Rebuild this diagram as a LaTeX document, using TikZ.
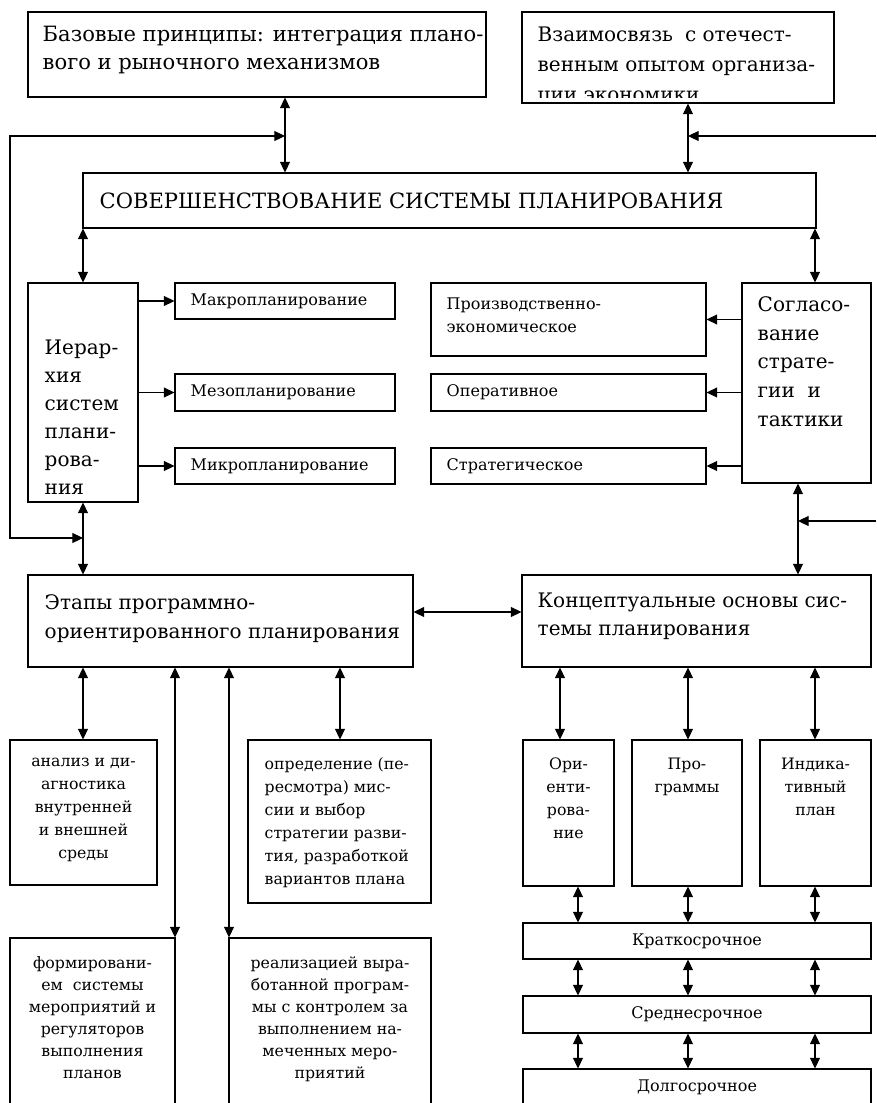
\documentclass[tikz,border=0pt]{standalone}
\usepackage{fontspec}
\setmainfont{DejaVu Serif}
\usetikzlibrary{arrows.meta, positioning, fit}
\tikzset{box/.style={draw, line width=.8pt, inner sep=0pt}}
\tikzset{big/.style={inner sep=0pt, align=left, font=\fontsize{15}{21.5}\selectfont}}
\tikzset{mid/.style={inner sep=0pt, align=left, font=\fontsize{12}{17.5}\selectfont}}
\tikzset{small/.style={inner sep=0pt, align=center, font=\fontsize{11.8}{17.25}\selectfont}}
\tikzset{dbl/.style={line width=.8pt, {Triangle[length=8pt,width=7.5pt]}-{Triangle[length=8pt,width=7.5pt]}}}
\tikzset{sgl/.style={line width=.8pt, -{Triangle[length=8pt,width=7.5pt]}}}

\begin{document}
\begin{tikzpicture}[x=.75pt, y=.75pt]
  \useasboundingbox (0,0) rectangle (876,-1103);
  \clip (0,0) rectangle (876,-1103);

  % Columns and rows of the connectors
  \coordinate (cA) at (285,0);
  \coordinate (cB) at (688,0);
  \coordinate (cC) at (83,0);
  \coordinate (cD) at (815,0);
  \coordinate (cE) at (798,0);
  \coordinate (cF) at (175,0);
  \coordinate (cG) at (229,0);
  \coordinate (cH) at (340,0);
  \coordinate (cI) at (560,0);
  \coordinate (cJ) at (688,0);
  \coordinate (cK) at (578,0);
  \coordinate (cL) at (10,0);
  \coordinate (cR) at (876,0);
  \coordinate (rA) at (0,-136);
  \coordinate (rB) at (0,-538);
  \coordinate (rC) at (0,-521);
  \coordinate (rD) at (0,-612);

  % Top
  \node[box, fit={(28,-12) (486,-97)}] (base) {};
  \node[big, font=\fontsize{15.8}{21}\selectfont, below right=14 and 15 of base.north west] (base-t)
    {Базовые принципы: интеграция плано-\\вого и рыночного механизмов};
  \node[box, fit={(522,-12) (834,-103)}] (link) {};
  \begin{scope}
    \clip (link.north west) rectangle ([yshift=4.5pt]link.south east);
    \node[big, font=\fontsize{15}{22.5}\selectfont, below right=15 and 16 of link.north west] (link-t)
      {Взаимосвязь\hspace{.6em}с отечест-\\венным опытом организа-\\ции экономики};
  \end{scope}
  \node[box, fit={(83,-173) (816,-228)}] (sov) {};
  \node[big, font=\fontsize{15.8}{21}\selectfont, right=17 of sov.west] (sov-t)
    {СОВЕРШЕНСТВОВАНИЕ СИСТЕМЫ ПЛАНИРОВАНИЯ};

  % Hierarchy
  \node[box, fit={(28,-283) (138,-502)}] (hier) {};
  \node[big, font=\fontsize{15}{21}\selectfont, below right=57 and 17 of hier.north west] (hier-t)
    {Иерар-\\хия\\систем\\плани-\\рова-\\ния};
  \node[box, fit={(175,-283) (395,-319)}] (macro) {};
  \node[mid, right=16 of macro.west] (macro-t) {Макропланирование};
  \node[box, fit={(175,-374) (395,-411)}] (meso) {};
  \node[mid, right=16 of meso.west] (meso-t) {Мезопланирование};
  \node[box, fit={(175,-448) (395,-484)}] (micro) {};
  \node[mid, right=16 of micro.west] (micro-t) {Микропланирование};

  % Strategy and tactics
  \node[box, fit={(742,-283) (871,-483)}] (agree) {};
  \node[big, below right=14 and 16 of agree.north west] (agree-t)
    {Согласо-\\вание\\страте-\\гии\ \ и\\тактики};
  \node[box, fit={(431,-283) (706,-356)}] (prod) {};
  \node[mid, below right=15 and 16 of prod.north west] (prod-t)
    {Производственно-\\экономическое};
  \node[box, fit={(431,-374) (706,-411)}] (oper) {};
  \node[mid, right=16 of oper.west] (oper-t) {Оперативное};
  \node[box, fit={(431,-448) (706,-484)}] (strat) {};
  \node[mid, right=16 of strat.west] (strat-t) {Стратегическое};

  % Middle row
  \node[box, fit={(28,-575) (413,-667)}] (stages) {};
  \node[big, below right=20 and 17 of stages.north west] (stages-t)
    {Этапы программно-\\ориентированного планирования};
  \node[box, fit={(522,-575) (871,-667)}] (concept) {};
  \node[big, below right=18 and 16 of concept.north west] (concept-t)
    {Концептуальные основы сис-\\темы планирования};

  % Stages
  \node[box, fit={(10,-740) (157,-885)}] (anal) {};
  \node[small, below=18 of anal.north] (anal-t)
    {анализ и ди-\\агностика\\внутренней\\и внешней\\среды};
  \node[box, fit={(248,-740) (431,-903)}] (defin) {};
  \node[small, align=left, below right=18 and 17 of defin.north west] (defin-t)
    {определение (пе-\\ресмотра) мис-\\сии и выбор\\стратегии разви-\\тия, разработкой\\вариантов плана};
  \node[box, fit={(10,-938) (175,-1110)}] (formir) {};
  \node[small, font=\fontsize{11.8}{16.5}\selectfont, below=19 of formir.north] (formir-t)
    {формировани-\\ем\ \ системы\\мероприятий и\\регуляторов\\выполнения\\планов};
  \node[box, fit={(229,-938) (431,-1110)}] (realiz) {};
  \node[small, font=\fontsize{11.8}{16.5}\selectfont, below=19 of realiz.north] (realiz-t)
    {реализацией выра-\\ботанной програм-\\мы с контролем за\\выполнением на-\\меченных меро-\\приятий};

  % Concepts
  \node[box, fit={(523,-740) (614,-886)}] (orient) {};
  \node[small, below=18 of orient.north] (orient-t) {Ори-\\енти-\\рова-\\ние};
  \node[box, fit={(632,-740) (742,-886)}] (progs) {};
  \node[small, below=18 of progs.north] (progs-t) {Про-\\граммы};
  \node[box, fit={(760,-740) (871,-886)}] (indic) {};
  \node[small, below=18 of indic.north] (indic-t) {Индика-\\тивный\\план};
  \node[box, fit={(523,-923) (871,-959)}] (short) {};
  \node[mid] at (short) (short-t) {Краткосрочное};
  \node[box, fit={(523,-996) (871,-1033)}] (midt) {};
  \node[mid] at (midt) (midt-t) {Среднесрочное};
  \node[box, fit={(523,-1069) (871,-1106)}] (long) {};
  \node[mid] at (long) (long-t) {Долгосрочное};

  % Connectors
  \draw[dbl] (base.south -| cA) -- (sov.north -| cA);
  \draw[dbl] (link.south -| cB) -- (sov.north -| cB);
  \draw[dbl] (rA -| cA) -- (rA -| cL) -- (rB -| cL) -- (rB -| cC);
  \draw[sgl] (rA -| cR) -- (rA -| cB);
  \draw[dbl] (sov.south -| cC) -- (hier.north -| cC);
  \draw[dbl] (sov.south -| cD) -- (agree.north -| cD);
  \foreach \n in {macro, meso, micro}
    \draw[sgl] (hier.east |- \n) -- (\n.west);
  \foreach \n in {prod, oper, strat}
    \draw[sgl] (agree.west |- \n) -- (\n.east);
  \draw[dbl] (hier.south -| cC) -- (stages.north -| cC);
  \draw[dbl] (agree.south -| cE) -- (concept.north -| cE);
  \draw[sgl] (rC -| cR) -- (rC -| cE);
  \draw[dbl] (stages.east |- rD) -- (concept.west |- rD);
  \draw[dbl] (stages.south -| cC) -- (anal.north -| cC);
  \draw[dbl] (stages.south -| cF) -- (formir.north -| cF);
  \draw[dbl] (stages.south -| cG) -- (realiz.north -| cG);
  \draw[dbl] (stages.south -| cH) -- (defin.north -| cH);
  \draw[dbl] (concept.south -| cI) -- (orient.north -| cI);
  \draw[dbl] (concept.south -| cJ) -- (progs.north -| cJ);
  \draw[dbl] (concept.south -| cD) -- (indic.north -| cD);
  \draw[dbl] (orient.south -| cK) -- (short.north -| cK);
  \draw[dbl] (progs.south -| cJ) -- (short.north -| cJ);
  \draw[dbl] (indic.south -| cD) -- (short.north -| cD);
  \foreach \c in {cK, cJ, cD} {
    \draw[dbl] (short.south -| \c) -- (midt.north -| \c);
    \draw[dbl] (midt.south -| \c) -- (long.north -| \c);
  }
\end{tikzpicture}
\end{document}
